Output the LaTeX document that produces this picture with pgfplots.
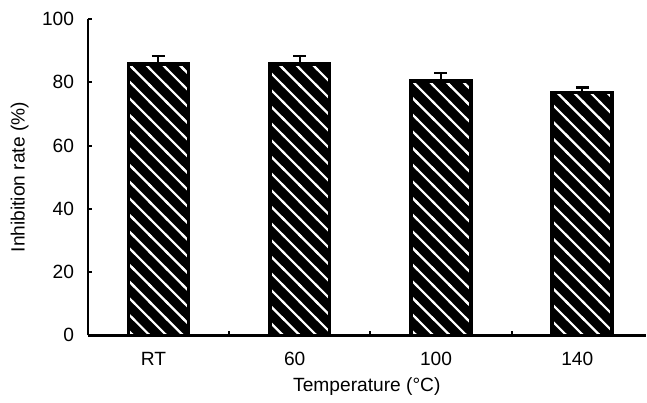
\documentclass[border=0pt]{standalone}
\usepackage{fontspec}
\setmainfont{Liberation Sans}
\usepackage{pgfplots}
\usepackage{pgfplotstable}
\pgfplotsset{compat=1.18}
\usetikzlibrary{patterns}
\pgfdeclarepatternformonly{wlines}
{\pgfpoint{-1pt}{-1pt}}{\pgfpoint{9.35pt}{9.35pt}}
{\pgfpoint{8.35pt}{8.35pt}}
{
  \pgfsetlinewidth{1.1pt}
  \pgfpathmoveto{\pgfpoint{-1pt}{9.35pt}}
  \pgfpathlineto{\pgfpoint{9.35pt}{-1pt}}
  \pgfusepath{stroke}
}
\pgfplotstableread{
x y e
0 85.8 2.5
1 85.8 2.5
2 80.4 2.5
3 76.8 1.6
}\datatable
\begin{document}
\fontsize{9.6}{11.5}\selectfont
\begin{tikzpicture}
\begin{axis}[
  scale only axis,
  width=279.5pt, height=158.5pt,
  xmin=-0.5, xmax=3.45,
  ymin=0, ymax=100,
  axis lines=left,
  axis line style={-, line width=1.2pt},
  xtick={0,1,2,3},
  xticklabels={RT,60,100,140},
  major x tick style={draw=none},
  minor xtick={0.5,1.5,2.5},
  minor tick length=2pt,
  ytick={0,20,40,60,80,100},
  major tick length=2pt,
  tick style={line width=1pt, black},
  tick align=inside,
  /pgf/number format/assume math mode=true,
  ticklabel style={font=\fontsize{9.6}{11.5}\selectfont},
  label style={font=\fontsize{9.6}{11.5}\selectfont},
  xticklabel style={yshift=-5pt, xshift=-2.5pt},
  yticklabel style={xshift=-3.5pt},
  xlabel={Temperature (°C)},
  ylabel={Inhibition rate (\%)},
  xlabel style={at={(axis description cs:0.5,-0.163)}, anchor=center},
  ylabel style={at={(axis description cs:-0.122,0.5)}, anchor=center},
  clip=false,
]
\addplot[ybar, bar width=30pt, bar shift=0pt, fill=black, draw=none, forget plot]
  table[x=x, y=y] {\datatable};
\addplot[ybar, bar width=30pt, bar shift=0pt, draw=none, pattern=wlines, pattern color=white, forget plot]
  table[x=x, y=y] {\datatable};
\addplot[ybar, bar width=30pt, bar shift=0pt, fill=none, draw=black, line width=1.8pt,
  error bars/.cd, y dir=plus, y explicit,
  error bar style={line width=1pt, black},
  error mark options={rotate=90, mark size=3.25pt, line width=1.3pt, black}]
  table[x=x, y=y, y error=e] {\datatable};
\end{axis}
\path (current axis.south west) ++(-44pt,-31pt) coordinate (bbA);
\path (current axis.north east) ++(0pt,9.5pt) coordinate (bbB);
\path (bbA) (bbB);
\end{tikzpicture}
\end{document}
